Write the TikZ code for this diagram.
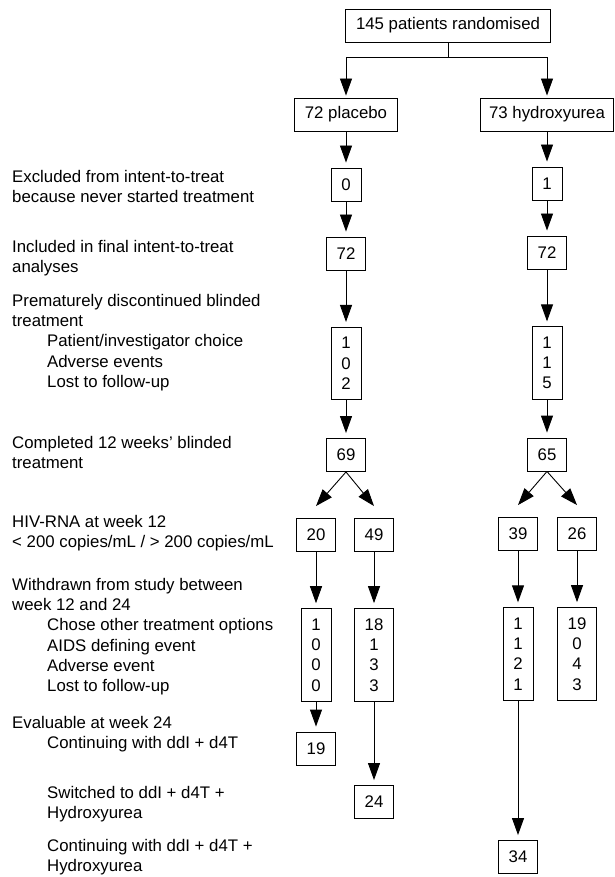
\documentclass[tikz,border=0pt]{standalone}
\usepackage{fontspec}
\setmainfont{Liberation Sans}
\usetikzlibrary{arrows.meta,positioning}

\tikzset{
  numbox/.style={draw, line width=0.9pt, inner xsep=10.3pt, inner ysep=0pt, minimum height=33pt},
  listbox/.style={draw, line width=0.9pt, align=center, inner xsep=10.3pt, inner ysep=10pt},
  arr/.style={line width=0.9pt, -{Triangle[length=17pt,width=12pt]}, shorten >=5pt},
  lefttext/.style={anchor=north west, inner sep=0pt, align=left},
}

\begin{document}
\begin{tikzpicture}[x=1pt, y=-1pt, every node/.style={font=\fontsize{16.8}{20.3}\selectfont}]
  \useasboundingbox (0,0) rectangle (614,877);
  % row labels on the left
  \node[lefttext] (excl) at (12,170) {Excluded from intent-to-treat\\because never started treatment};
  \node[lefttext] (incl) at (12,240) {Included in final intent-to-treat\\analyses};
  \node[lefttext] (disc) at (12,294) {Prematurely discontinued blinded\\treatment\\
    \hspace*{35pt}Patient/investigator choice\\\hspace*{35pt}Adverse events\\\hspace*{35pt}Lost to follow-up};
  \node[lefttext] (compl) at (12,436) {Completed 12 weeks' blinded\\treatment};
  \node[lefttext] (hiv) at (12,515) {HIV-RNA at week 12\\< 200 copies/mL / > 200 copies/mL};
  \node[lefttext] (withd) at (12,578) {Withdrawn from study between\\week 12 and 24\\
    \hspace*{35pt}Chose other treatment options\\\hspace*{35pt}AIDS defining event\\
    \hspace*{35pt}Adverse event\\\hspace*{35pt}Lost to follow-up};
  \node[lefttext] (eval) at (12,716) {Evaluable at week 24\\\hspace*{35pt}Continuing with ddI + d4T};
  \node[lefttext] (switch) at (12,786) {\hspace*{35pt}Switched to ddI + d4T +\\\hspace*{35pt}Hydroxyurea};
  \node[lefttext] (cont) at (12,839) {\hspace*{35pt}Continuing with ddI + d4T +\\\hspace*{35pt}Hydroxyurea};

  % randomisation
  \node[numbox] (rand) at (448,25.5) {145 patients randomised};
  \node[numbox] (plac) at (346,114.5) {72 placebo};
  \node[numbox, inner xsep=9pt] (hydr) at (547,114.5) {73 hydroxyurea};
  \coordinate (split) at (448,57);
  \draw[line width=0.9pt] (rand) -- (split);
  \draw[arr, shorten >=2pt] (split) -| (plac.north);
  \draw[arr, shorten >=2pt] (split) -| (hydr.north);

  % placebo arm
  \node[numbox] (p0) at (346,184.5) {0};
  \node[numbox] (p72) at (346,253.5) {72};
  \node[listbox] (pdisc) at (346,363.5) {1\\0\\2};
  \node[numbox] (p69) at (346,455) {69};
  \node[numbox] (p20) at (316,535) {20};
  \node[numbox] (p49) at (374,535) {49};
  \node[listbox] (pw20) at (316,655) {1\\0\\0\\0};
  \node[listbox] (pw49) at (374,655) {18\\1\\3\\3};
  \node[numbox] (p19) at (316,748.5) {19};
  \node[numbox] (p24) at (374,802) {24};
  \draw[arr] (plac) -- (p0);
  \draw[arr] (p0) -- (p72);
  \draw[arr] (p72) -- (pdisc);
  \draw[arr] (pdisc) -- (p69);
  \draw[arr, shorten >=0pt] (p69.south) -- ([yshift=12pt]p20.north);
  \draw[arr, shorten >=0pt] (p69.south) -- ([yshift=12pt]p49.north);
  \draw[arr] (p20) -- (pw20);
  \draw[arr] (p49) -- (pw49);
  \draw[arr] (pw20) -- (p19);
  \draw[arr] (pw49) -- (p24);

  % hydroxyurea arm
  \node[numbox] (h1) at (547,183.5) {1};
  \node[numbox] (h72) at (547,252.5) {72};
  \node[listbox] (hdisc) at (547,363) {1\\1\\5};
  \node[numbox] (h65) at (547,454.5) {65};
  \node[numbox] (h39) at (518,534) {39};
  \node[numbox] (h26) at (577,534) {26};
  \node[listbox] (hw39) at (518,654) {1\\1\\2\\1};
  \node[listbox] (hw26) at (577,654) {19\\0\\4\\3};
  \node[numbox] (h34) at (518,857) {34};
  \draw[arr] (hydr.south -| h1) -- (h1);
  \draw[arr] (h1) -- (h72);
  \draw[arr] (h72) -- (hdisc);
  \draw[arr] (hdisc) -- (h65);
  \draw[arr, shorten >=0pt] (h65.south) -- ([yshift=12pt]h39.north);
  \draw[arr, shorten >=0pt] (h65.south) -- ([yshift=12pt]h26.north);
  \draw[arr] (h39) -- (hw39);
  \draw[arr] (h26) -- (hw26);
  \draw[arr] (hw39) -- (h34);
\end{tikzpicture}
\end{document}
